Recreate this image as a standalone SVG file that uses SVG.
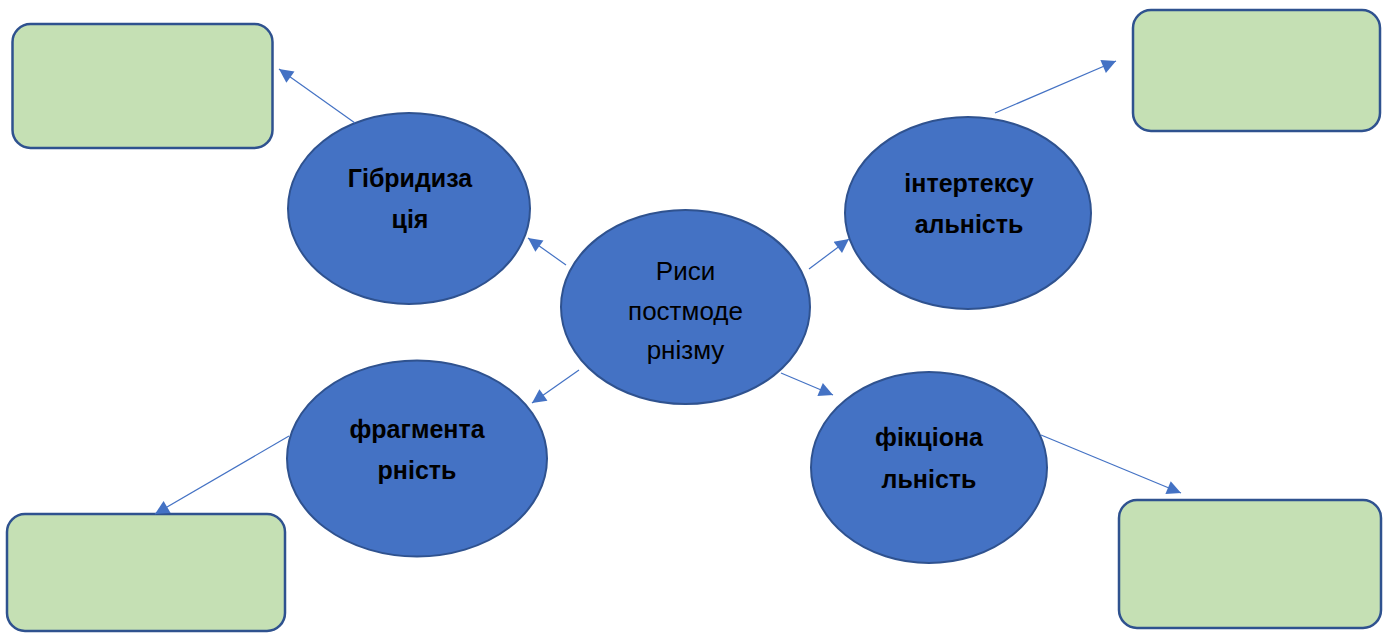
<svg xmlns="http://www.w3.org/2000/svg" width="1383" height="633" viewBox="0 0 1383 633">
  <style>
    .ell { fill: #4472C4; stroke: #2F528F; stroke-width: 2; }
    .box { fill: #C5E0B4; stroke: #2F528F; stroke-width: 2.5; }
    .lbl { font-family: "Liberation Sans", Arial, sans-serif; font-size: 25px; font-weight: bold; fill: #000; text-anchor: middle; }
    .ctr { font-family: "Liberation Sans", Arial, sans-serif; font-size: 26px; fill: #000; text-anchor: middle; }
    .con { stroke: #4472C4; stroke-width: 1.2; fill: none; marker-end: url(#arr); }
  </style>
  <defs>
    <marker id="arr" viewBox="0 0 10 10" refX="10" refY="5" markerWidth="17" markerHeight="14" markerUnits="userSpaceOnUse" orient="auto">
      <path d="M0,0 L10,5 L0,10 z" fill="#4472C4"/>
    </marker>
  </defs>

  <g id="box-tl"><rect class="box" x="12.5" y="24" width="260" height="124" rx="18"/></g>
  <g id="box-tr"><rect class="box" x="1133" y="10" width="247" height="121" rx="18"/></g>
  <g id="box-bl"><rect class="box" x="7" y="514" width="278" height="117" rx="18"/></g>
  <g id="box-br"><rect class="box" x="1119" y="500" width="262" height="128" rx="18"/></g>

  <g id="center">
    <ellipse class="ell" cx="685.5" cy="307" rx="124.5" ry="97"/>
    <text class="ctr" x="685.5" y="280">Риси</text>
    <text class="ctr" x="685.5" y="320">постмоде</text>
    <text class="ctr" x="685.5" y="359">рнізму</text>
  </g>

  <g id="hybrid">
    <ellipse class="ell" cx="409" cy="208.5" rx="121" ry="95.5"/>
    <text class="lbl" x="410" y="187">Гібридиза</text>
    <text class="lbl" x="410" y="228">ція</text>
  </g>

  <g id="intertext">
    <ellipse class="ell" cx="968" cy="213" rx="123" ry="96"/>
    <text class="lbl" x="969" y="192">інтертексу</text>
    <text class="lbl" x="969" y="233">альність</text>
  </g>

  <g id="fragment">
    <ellipse class="ell" cx="417" cy="458.5" rx="130" ry="98"/>
    <text class="lbl" x="417" y="438">фрагмента</text>
    <text class="lbl" x="417" y="479">рність</text>
  </g>

  <g id="fiction">
    <ellipse class="ell" cx="929" cy="467.5" rx="118" ry="95.5"/>
    <text class="lbl" x="929" y="446">фікціона</text>
    <text class="lbl" x="929" y="488">льність</text>
  </g>

  <g id="connectors">
    <line class="con" x1="566" y1="265" x2="528" y2="238"/>
    <line class="con" x1="355" y1="123" x2="279" y2="69"/>
    <line class="con" x1="809" y1="269" x2="849" y2="239"/>
    <line class="con" x1="995" y1="113" x2="1116" y2="61"/>
    <line class="con" x1="579" y1="370" x2="532" y2="403"/>
    <line class="con" x1="289" y1="436" x2="155" y2="514"/>
    <line class="con" x1="781" y1="373" x2="833" y2="395"/>
    <line class="con" x1="1041" y1="435" x2="1181" y2="493"/>
  </g>
</svg>
